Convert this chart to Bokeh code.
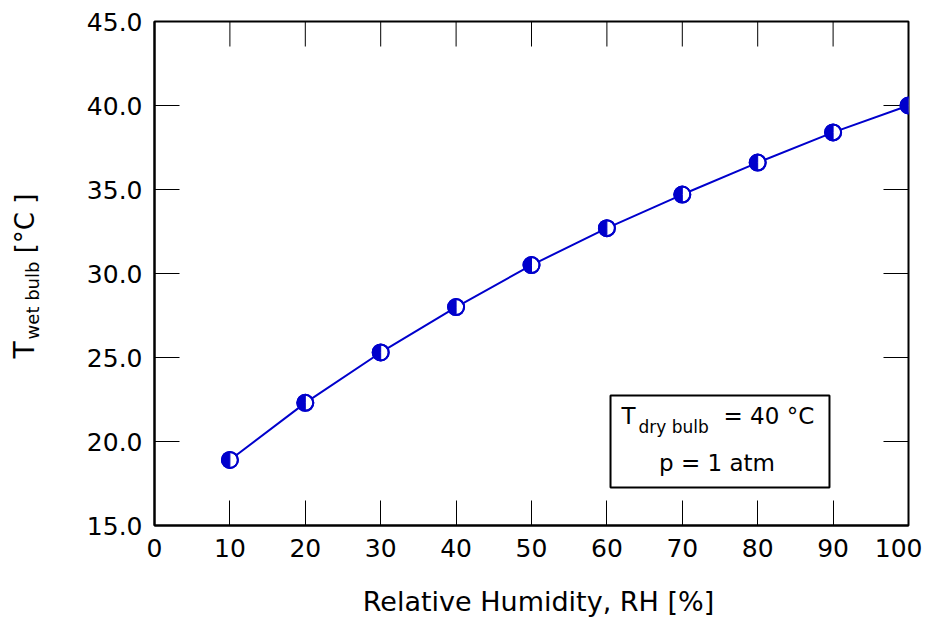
import numpy as np
from bokeh.plotting import figure
from bokeh.layouts import row, column
from bokeh.models import (LinearAxis, FixedTicker, NumeralTickFormatter, Range1d,
                          Label, BoxAnnotation)
from bokeh.core.properties import value
from bokeh.embed import file_html
from bokeh.resources import INLINE

# ---- data ----
rh = [10, 20, 30, 40, 50, 60, 70, 80, 90, 100]
t_wet = [18.9, 22.3, 25.3, 28.0, 30.5, 32.7, 34.7, 36.6, 38.4, 40.0]
x_ticks = [0, 10, 20, 30, 40, 50, 60, 70, 80, 90, 100]
y_ticks = [15, 20, 25, 30, 35, 40, 45]

FONT = "DejaVu Sans"
BLUE = "#0000cc"

LEFT_W = 60
MAIN_W = 862
TOP_H = 570
BOT_H = 48
B_TOP = 21
B_BOT = 45
FRAME_H = TOP_H - B_TOP - B_BOT

# ---------------- main plot ----------------
p = figure(width=MAIN_W, height=TOP_H, output_backend="svg", toolbar_location=None,
           x_range=Range1d(x_ticks[0], x_ticks[-1]),
           y_range=Range1d(y_ticks[0], y_ticks[-1]),
           min_border_left=94, min_border_right=14, min_border_top=B_TOP,
           min_border_bottom=B_BOT, x_axis_location=None, y_axis_location=None)
p.grid.visible = False
p.outline_line_color = "black"
p.outline_line_width = 2
p.background_fill_color = "white"
p.border_fill_color = "white"


def style(ax, ticks, fmt=None):
    ax.ticker = FixedTicker(ticks=ticks)
    ax.major_tick_in = 25
    ax.major_tick_out = 0
    ax.minor_tick_in = 0
    ax.minor_tick_out = 0
    ax.major_tick_line_color = "black"
    ax.major_tick_line_width = 1
    ax.axis_line_color = "black"
    ax.axis_line_width = 2
    ax.major_label_text_font = FONT
    ax.major_label_text_color = "black"
    ax.major_label_text_font_size = "25px"
    if fmt:
        ax.formatter = fmt


xb = LinearAxis()
style(xb, x_ticks)
xb.major_label_standoff = 13
p.add_layout(xb, "below")

yl = LinearAxis()
style(yl, y_ticks, NumeralTickFormatter(format="0.0"))
yl.major_label_standoff = 12
p.add_layout(yl, "left")

# mirrored inward ticks on top and right
p.ray(x=x_ticks, y=[y_ticks[-1]] * len(x_ticks), length=25, length_units="screen",
      angle=-np.pi / 2, line_color="black", line_width=1)
p.ray(x=[x_ticks[-1]] * len(y_ticks), y=y_ticks, length=25, length_units="screen",
      angle=np.pi, line_color="black", line_width=1)

# ---- series ----
p.line(rh, t_wet, line_color=BLUE, line_width=2)
p.scatter(rh, t_wet, size=16, fill_color="white", line_color=BLUE, line_width=2)
p.wedge(rh, t_wet, radius=8, radius_units="screen",
        start_angle=np.pi / 2, end_angle=3 * np.pi / 2,
        fill_color=BLUE, line_color=BLUE, line_width=1)
p.scatter(rh, t_wet, size=16, fill_color=None, line_color=BLUE, line_width=2)


def lab(x, y, text, size, align="left"):
    p.add_layout(Label(x=x, y=y, text=text, text_align=align,
                       text_baseline="middle", text_font=FONT,
                       text_font_size=size, text_color="black"))


# ---- annotation box ----
p.add_layout(BoxAnnotation(left=60.48, right=89.52, top=22.74, bottom=17.26,
                           fill_color="white", fill_alpha=1.0,
                           line_color="black", line_width=2, line_alpha=1.0))
lab(61.94, 21.49, "T", "23px")
lab(64.19, 20.89, "dry bulb", "17px")
lab(75.46, 21.49, "= 40 °C", "23px")
lab(74.6, 18.75, "p = 1 atm", "23px", align="center")

# ---------------- y axis title strip ----------------
# (its frame is aligned with the main plot's frame by the row layout)
yt = figure(width=LEFT_W, height=TOP_H, output_backend="svg", toolbar_location=None,
            x_range=Range1d(0, LEFT_W), y_range=Range1d(0, FRAME_H),
            min_border_left=0, min_border_right=0, min_border_top=B_TOP,
            min_border_bottom=B_BOT, x_axis_location=None, y_axis_location=None)
yt.grid.visible = False
yt.outline_line_color = None
FRAME_BOTTOM = B_TOP + FRAME_H  # screen y of frame bottom


def vtext(x, y_from_top, text, size):
    yt.text(x=[x], y=[FRAME_BOTTOM - y_from_top], text=[text], angle=np.pi / 2,
            text_align="center", text_baseline="middle", text_font=value(FONT),
            text_font_size=value(size), text_color="black")


vtext(23.8, 349.5, "T", "28px")
vtext(31.8, 300, "wet bulb", "18px")
vtext(24.5, 223, "[°C ]", "26px")

# ---------------- x axis title strip ----------------
TOT_W = LEFT_W + MAIN_W
xt = figure(width=TOT_W, height=BOT_H, output_backend="svg", toolbar_location=None,
            x_range=Range1d(0, TOT_W), y_range=Range1d(0, BOT_H),
            min_border=0, x_axis_location=None, y_axis_location=None)
xt.grid.visible = False
xt.outline_line_color = None
xt.text(x=[538], y=[17], text=["Relative Humidity, RH [%]"], text_align="center",
        text_baseline="middle", text_font=value(FONT),
        text_font_size=value("27px"), text_color="black")

layout = column(row(yt, p), xt)
open("out.html", "w").write(file_html(layout, INLINE))
